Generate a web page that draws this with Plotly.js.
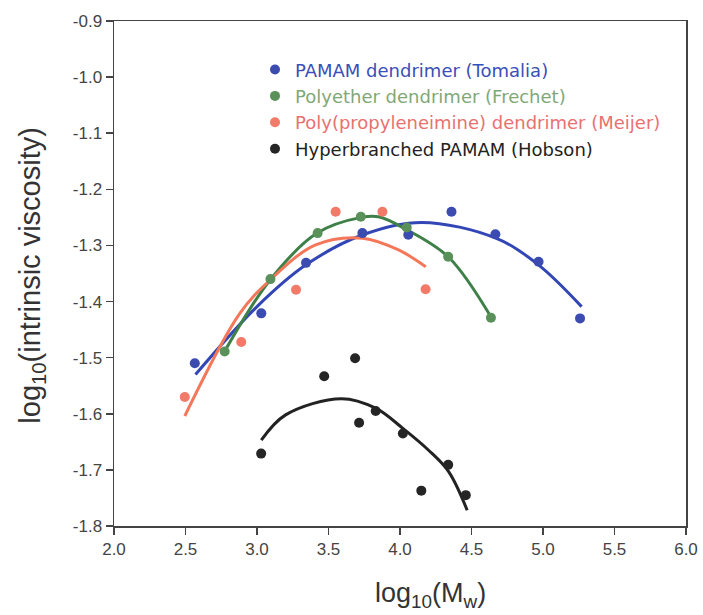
<!DOCTYPE html>
<html>
<head>
<meta charset="utf-8">
<script src="https://cdn.plot.ly/plotly-3.0.1.min.js"></script>
<style>html,body{margin:0;padding:0;background:#fff;}#chart{width:703px;height:615px;}</style>
</head>
<body>
<div id="chart"></div>
<script>
// Measured points
var tomaliaX = [2.565, 3.03, 3.343, 3.737, 4.058, 4.36, 4.667, 4.969, 5.259];
var tomaliaY = [-1.510, -1.421, -1.331, -1.278, -1.281, -1.240, -1.280, -1.329, -1.430];
var frechetX = [2.774, 3.094, 3.424, 3.726, 4.047, 4.337, 4.636];
var frechetY = [-1.489, -1.360, -1.278, -1.249, -1.268, -1.320, -1.429];
var meijerX = [2.495, 2.89, 3.273, 3.55, 3.877, 4.179];
var meijerY = [-1.570, -1.472, -1.379, -1.240, -1.240, -1.378];
var hobsonX = [3.029, 3.47, 3.686, 3.714, 3.83, 4.02, 4.149, 4.337, 4.46];
var hobsonY = [-1.671, -1.533, -1.501, -1.616, -1.595, -1.635, -1.737, -1.691, -1.745];

// Fitted curves
var tomaliaFitX = [2.57, 3.0, 3.34, 3.74, 4.15, 4.67, 4.97, 5.27];
var tomaliaFitY = [-1.530, -1.409, -1.335, -1.281, -1.259, -1.287, -1.335, -1.409];
var frechetFitX = [2.76, 3.09, 3.42, 3.73, 3.85, 4.04, 4.34, 4.64];
var frechetFitY = [-1.495, -1.362, -1.278, -1.250, -1.249, -1.271, -1.321, -1.429];
var meijerFitX = [2.495, 2.88, 3.09, 3.41, 3.74, 3.99, 4.18];
var meijerFitY = [-1.604, -1.421, -1.362, -1.299, -1.287, -1.308, -1.338];
var hobsonFitX = [3.03, 3.2, 3.59, 3.83, 4.02, 4.2, 4.34, 4.47];
var hobsonFitY = [-1.647, -1.602, -1.573, -1.590, -1.626, -1.665, -1.703, -1.772];

var seriesNames = ["PAMAM dendrimer (Tomalia)", "Polyether dendrimer (Frechet)",
                   "Poly(propyleneimine) dendrimer (Meijer)", "Hyperbranched PAMAM (Hobson)"];
var xTicks = [2.0, 2.5, 3.0, 3.5, 4.0, 4.5, 5.0, 5.5, 6.0];
var yTicks = [-1.8, -1.7, -1.6, -1.5, -1.4, -1.3, -1.2, -1.1, -1.0, -0.9];
var xTitle = "log<sub>10</sub>(M<sub>w</sub>)";
var yTitle = "log<sub>10</sub>(intrinsic viscosity)";

var markerColors = ["#3b4bb0", "#5a915a", "#f27a68", "#252525"];
var lineColors = ["#3346b5", "#3f8048", "#f5775a", "#222222"];
var textColors = ["#3a4fb8", "#7fa877", "#e8716f", "#222222"];

var pts = [[tomaliaX, tomaliaY], [frechetX, frechetY], [meijerX, meijerY], [hobsonX, hobsonY]];
var fits = [[tomaliaFitX, tomaliaFitY], [frechetFitX, frechetFitY], [meijerFitX, meijerFitY], [hobsonFitX, hobsonFitY]];

var traces = [];
for (var i = 0; i < 4; i++) {
  traces.push({
    x: fits[i][0], y: fits[i][1], mode: "lines", type: "scatter",
    line: {color: lineColors[i], width: 3, shape: "spline", smoothing: 1},
    showlegend: false, hoverinfo: "skip"
  });
}
for (var j = 0; j < 4; j++) {
  traces.push({
    x: pts[j][0], y: pts[j][1], mode: "markers", type: "scatter",
    name: '<span style="color:' + textColors[j] + '">' + seriesNames[j] + '</span>',
    marker: {color: markerColors[j], size: 10}
  });
}

var layout = {
  width: 703, height: 615,
  margin: {l: 114, r: 17, t: 21, b: 89},
  paper_bgcolor: "#ffffff", plot_bgcolor: "#ffffff",
  font: {family: "Liberation Sans, Arial, sans-serif", color: "#333"},
  xaxis: {
    range: [2, 6], tickvals: xTicks, ticktext: xTicks.map(function(v){return v.toFixed(1);}),
    ticks: "outside", ticklen: 7, tickwidth: 1.5, tickcolor: "#444",
    showline: true, linecolor: "#444", linewidth: 1.5, mirror: true,
    showgrid: false, zeroline: false,
    tickfont: {size: 17, color: "#444"}
  },
  yaxis: {
    range: [-1.8, -0.9], tickvals: yTicks, ticktext: yTicks.map(function(v){return v.toFixed(1);}),
    ticks: "outside", ticklen: 7, tickwidth: 1.5, tickcolor: "#444",
    showline: true, linecolor: "#444", linewidth: 1.5, mirror: true,
    showgrid: false, zeroline: false,
    tickfont: {size: 17, color: "#444"}
  },
  annotations: [
    {text: xTitle, xref: "paper", yref: "paper", x: 0.554, y: -0.136,
     xanchor: "center", yanchor: "middle", showarrow: false,
     font: {size: 27, color: "#333"}},
    {text: yTitle, xref: "paper", yref: "paper", x: -0.144, y: 0.497,
     xanchor: "center", yanchor: "middle", showarrow: false, textangle: -90,
     font: {size: 29, color: "#333"}}
  ],
  legend: {
    x: 0.2465, y: 0.94, xanchor: "left", yanchor: "top",
    bgcolor: "rgba(0,0,0,0)", borderwidth: 0,
    font: {family: "DejaVu Sans, sans-serif", size: 18, color: "#222"}, tracegroupgap: 0
  },
  showlegend: true
};

Plotly.newPlot("chart", traces, layout, {displayModeBar: false, staticPlot: true});
</script>
</body>
</html>
